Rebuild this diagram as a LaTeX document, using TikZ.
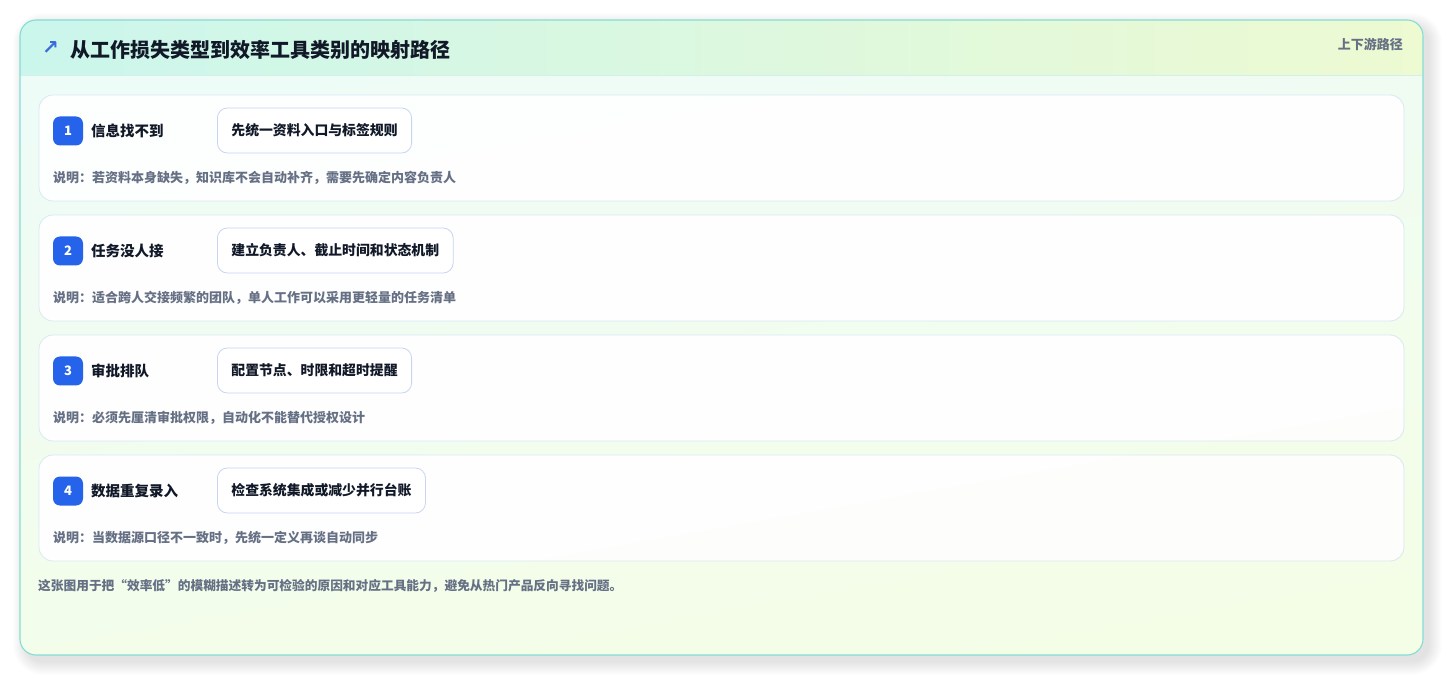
\documentclass[tikz,border=0pt]{standalone}
\usepackage{fontspec}
\setmainfont{Noto Sans CJK SC}
\newfontfamily\symfont{DejaVu Sans}
\newcommand\setfs[1]{\fontsize{#1}{#1}\selectfont}
\definecolor{cardborder}{HTML}{84DDD3}
\definecolor{cardtop}{HTML}{EEFCF8}
\definecolor{cardbot}{HTML}{F4FDE6}
\definecolor{headleft}{HTML}{CBF6EC}
\definecolor{headright}{HTML}{EDFAD2}
\definecolor{headline}{HTML}{D3EEEC}
\definecolor{rowborder}{HTML}{D9E8F2}
\definecolor{toolborder}{HTML}{C6D6F0}
\definecolor{badgeblue}{HTML}{2563EB}
\definecolor{titlecol}{HTML}{111827}
\definecolor{greytext}{HTML}{667085}
\definecolor{arrowblue}{HTML}{3A6BDE}
\begin{document}
\begin{tikzpicture}[x=1pt,y=-1pt,
  rowbox/.style={draw=rowborder, line width=0.8pt, fill=white, fill opacity=0.9, text opacity=1,
    rounded corners=14pt, minimum width=1365pt, minimum height=106pt, inner sep=0pt},
  badge/.style={fill=badgeblue, rounded corners=7pt, minimum width=30pt, minimum height=29pt,
    inner sep=0pt, text=white, font=\setfs{13}\bfseries},
  label/.style={anchor=west, inner sep=0pt, text=titlecol, font=\setfs{14.5}\bfseries},
  tool/.style={anchor=west, draw=toolborder, line width=0.8pt, fill=white, rounded corners=10pt,
    minimum height=45pt, inner xsep=14pt, inner ysep=0pt, text=titlecol, font=\setfs{13.85}\bfseries},
  desc/.style={anchor=west, inner sep=0pt, text=greytext, font=\setfs{13}\bfseries},
]
\useasboundingbox (0,0) rectangle (1444,676);
% soft shadow of the card
\foreach \i in {1,...,14}{
  \fill[black, opacity=0.006, rounded corners=16pt+\i pt] (20-\i+7, 20-\i+7) rectangle (1423+\i+5, 655+\i+6);
}
% card background
\shade[rounded corners=16pt, top color=cardtop, bottom color=cardbot, shading angle=10] (20,20) rectangle (1423,655);
% header band
\begin{scope}
  \clip[rounded corners=16pt] (20,20) rectangle (1423,655);
  \shade[left color=headleft, right color=headright] (20,20) rectangle (1423,75);
\end{scope}
\draw[headline, line width=0.8pt] (20,75) -- (1423,75);
\draw[cardborder, line width=1.1pt, rounded corners=16pt] (20,20) rectangle (1423,655);

\node[anchor=center, inner sep=0pt, text=arrowblue, font=\symfont\bfseries\setfs{20}] (icon) at (50.5,48.5) {↗};
\node[anchor=west, inner sep=0pt, text=titlecol, font=\setfs{20}\bfseries] (title) at (70,49.5) {从工作损失类型到效率工具类别的映射路径};
\node[anchor=east, inner sep=0pt, text=greytext, font=\setfs{13}\bfseries] (side) at (1403,44) {上下游路径};

% rows
\node[rowbox] (row1) at (721.5,148) {};
\node[badge] (b1) at (68,131) {1};
\node[label] (l1) at (91,131) {信息找不到};
\node[tool] (t1) at (217,130.5) {先统一资料入口与标签规则};
\node[desc] (d1) at (53,178) {说明：若资料本身缺失，知识库不会自动补齐，需要先确定内容负责人};

\node[rowbox] (row2) at (721.5,268) {};
\node[badge] (b2) at (68,251) {2};
\node[label] (l2) at (91,251) {任务没人接};
\node[tool] (t2) at (217,250.5) {建立负责人、截止时间和状态机制};
\node[desc] (d2) at (53,298) {说明：适合跨人交接频繁的团队，单人工作可以采用更轻量的任务清单};

\node[rowbox] (row3) at (721.5,388) {};
\node[badge] (b3) at (68,371) {3};
\node[label] (l3) at (91,371) {审批排队};
\node[tool] (t3) at (217,370.5) {配置节点、时限和超时提醒};
\node[desc] (d3) at (53,418) {说明：必须先厘清审批权限，自动化不能替代授权设计};

\node[rowbox] (row4) at (721.5,508) {};
\node[badge] (b4) at (68,491) {4};
\node[label] (l4) at (91,491) {数据重复录入};
\node[tool] (t4) at (217,490.5) {检查系统集成或减少并行台账};
\node[desc] (d4) at (53,538) {说明：当数据源口径不一致时，先统一定义再谈自动同步};

\node[anchor=west, inner sep=0pt, text=greytext, font=\setfs{12.7}\bfseries] (foot) at (38,586) {这张图用于把“效率低”的模糊描述转为可检验的原因和对应工具能力，避免从热门产品反向寻找问题。};
\end{tikzpicture}
\end{document}
